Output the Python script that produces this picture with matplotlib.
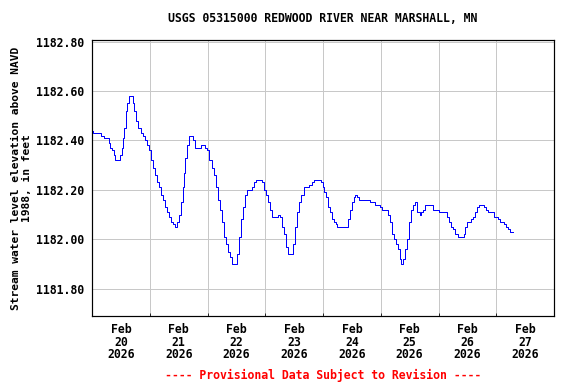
import numpy as np
import matplotlib
matplotlib.use("Agg")
import matplotlib.pyplot as plt
import matplotlib.dates as mdates

# hours since 2026-02-20 00:00 and gage height (ft, NAVD 1988)
hours = [0.29, 0.54, 3.32, 3.62, 4.70, 4.99, 6.11, 6.94, 7.48, 8.31, 9.14, 9.68, 10.93, 11.64, 12.34,
         13.01, 13.42, 14.13, 14.67, 15.50, 16.33, 16.92, 17.46, 18.29, 19.24, 20.24, 21.32, 22.15,
         22.98, 23.81, 24.64, 25.48, 26.31, 27.14, 27.97, 28.80, 29.63, 30.46, 31.29, 32.13, 32.96,
         33.79, 34.62, 35.45, 36.28, 36.86, 37.70, 38.24, 38.78, 39.36, 40.19, 41.02, 41.85, 42.93,
         44.88, 45.42, 46.01, 46.84, 47.67, 48.50, 48.75, 49.75, 50.58, 51.41, 52.24, 53.07, 53.91,
         54.74, 55.57, 56.40, 57.23, 58.06, 59.43, 60.26, 61.09, 61.93, 62.76, 63.59, 64.42, 65.79,
         66.62, 67.45, 68.28, 69.41, 70.53, 71.36, 72.19, 73.02, 73.85, 74.68, 76.89, 77.18, 78.01,
         78.84, 79.67, 80.50, 81.33, 82.70, 83.54, 84.37, 85.20, 86.03, 86.86, 87.98, 89.35, 90.18,
         91.31, 92.14, 94.34, 95.17, 96.00, 96.54, 97.25, 98.08, 98.91, 99.74, 100.57, 101.41, 101.95,
         105.56, 106.39, 107.22, 108.06, 108.89, 109.43, 110.26, 111.09, 114.99, 115.54, 117.20,
         117.74, 119.15, 119.69, 120.52, 122.19, 123.02, 123.85, 124.68, 125.51, 126.35, 127.18,
         128.01, 128.55, 129.38, 130.21, 131.04, 131.87, 132.70, 133.53, 134.36, 135.20, 136.03,
         136.32, 136.86, 137.69, 138.52, 141.02, 141.85, 143.80, 144.34, 145.88, 146.71, 147.54,
         148.37, 149.20, 150.03, 150.86, 151.99, 153.65, 154.48, 155.02, 155.85, 156.68, 157.51,
         158.35, 159.18, 160.01, 160.84, 161.96, 162.79, 163.62, 164.70, 165.82, 166.94, 167.77,
         168.61, 169.69, 171.10, 171.93, 172.76, 173.59, 174.14, 174.97]
values = [1182.44, 1182.43, 1182.43, 1182.42, 1182.42, 1182.41, 1182.41, 1182.39, 1182.37, 1182.36,
          1182.34, 1182.32, 1182.32, 1182.34, 1182.37, 1182.41, 1182.45, 1182.52, 1182.55, 1182.58,
          1182.58, 1182.55, 1182.52, 1182.48, 1182.45, 1182.43, 1182.42, 1182.40, 1182.38, 1182.36,
          1182.32, 1182.29, 1182.26, 1182.23, 1182.21, 1182.18, 1182.16, 1182.13, 1182.11, 1182.09,
          1182.07, 1182.06, 1182.05, 1182.07, 1182.10, 1182.15, 1182.21, 1182.27, 1182.33, 1182.38,
          1182.42, 1182.42, 1182.40, 1182.37, 1182.37, 1182.38, 1182.38, 1182.37, 1182.36, 1182.34,
          1182.32, 1182.29, 1182.26, 1182.21, 1182.16, 1182.12, 1182.07, 1182.01, 1181.98, 1181.95,
          1181.93, 1181.90, 1181.90, 1181.94, 1182.01, 1182.08, 1182.13, 1182.18, 1182.20, 1182.20,
          1182.21, 1182.23, 1182.24, 1182.24, 1182.23, 1182.20, 1182.18, 1182.15, 1182.12, 1182.09,
          1182.09, 1182.10, 1182.09, 1182.05, 1182.02, 1181.97, 1181.94, 1181.94, 1181.98, 1182.05,
          1182.11, 1182.15, 1182.18, 1182.21, 1182.21, 1182.22, 1182.23, 1182.24, 1182.24, 1182.23,
          1182.21, 1182.19, 1182.17, 1182.13, 1182.11, 1182.08, 1182.07, 1182.06, 1182.05, 1182.05,
          1182.08, 1182.12, 1182.15, 1182.17, 1182.18, 1182.17, 1182.16, 1182.16, 1182.15, 1182.15,
          1182.14, 1182.14, 1182.13, 1182.12, 1182.12, 1182.10, 1182.07, 1182.02, 1182.00, 1181.98,
          1181.96, 1181.92, 1181.90, 1181.92, 1181.96, 1182.00, 1182.07, 1182.12, 1182.14, 1182.15,
          1182.11, 1182.11, 1182.10, 1182.11, 1182.12, 1182.14, 1182.14, 1182.12, 1182.12, 1182.11,
          1182.11, 1182.11, 1182.09, 1182.07, 1182.05, 1182.04, 1182.02, 1182.01, 1182.01, 1182.02,
          1182.05, 1182.07, 1182.07, 1182.08, 1182.09, 1182.11, 1182.13, 1182.14, 1182.14, 1182.13,
          1182.12, 1182.11, 1182.11, 1182.09, 1182.09, 1182.08, 1182.07, 1182.06, 1182.05, 1182.04,
          1182.03, 1182.03, 1182.03]

start = np.datetime64("2026-02-20T00:00")
day_labels = ["Feb\n20\n2026", "Feb\n21\n2026", "Feb\n22\n2026", "Feb\n23\n2026",
              "Feb\n24\n2026", "Feb\n25\n2026", "Feb\n26\n2026", "Feb\n27\n2026"]
yticks = [1181.80, 1182.00, 1182.20, 1182.40, 1182.60, 1182.80]

title = "USGS 05315000 REDWOOD RIVER NEAR MARSHALL, MN"
ylabel = "Stream water level elevation above NAVD\n1988, in feet"
footer = "---- Provisional Data Subject to Revision ----"

font = "DejaVu Sans Mono"
fs = 11.5

times = start + (np.array(hours) * 60).astype("timedelta64[m]")

fig = plt.figure(figsize=(8, 384 / 72), dpi=72)
ax = fig.add_axes([92 / 576, 1 - 316 / 384, (554 - 92) / 576, (316 - 40) / 384])

ax.plot(times, values, color="#0000ff", lw=1.0, drawstyle="steps-post", zorder=3)

n_days = len(day_labels)
midnights = [start + np.timedelta64(24 * i, "h") for i in range(n_days + 1)]
noons = [start + np.timedelta64(24 * i + 12, "h") for i in range(n_days)]
ax.set_xlim(mdates.date2num(midnights[0]), mdates.date2num(midnights[-1]))
ax.set_xticks([mdates.date2num(m) for m in midnights])
ax.set_xticklabels([])
ax.set_xticks([mdates.date2num(n) for n in noons], minor=True)
ax.set_xticklabels(day_labels, minor=True, fontfamily=font, fontweight="bold", fontsize=fs,
                   linespacing=0.95)
ax.tick_params(axis="x", which="minor", length=0, pad=7)
ax.tick_params(axis="x", which="major", length=3, direction="in")

ax.set_ylim(1181.689, 1182.807)
ax.set_yticks(yticks)
ax.set_yticklabels([f"{v:.2f}" for v in yticks], fontfamily=font, fontweight="bold", fontsize=fs)
ax.tick_params(axis="y", length=0, pad=8)

ax.grid(True, which="major", color="#c8c8c8", lw=1.0, zorder=1)
ax.set_axisbelow(True)
for s in ax.spines.values():
    s.set_linewidth(1.2)
    s.set_color("black")

ax.set_ylabel(ylabel, fontfamily=font, fontweight="bold", fontsize=11.3, linespacing=1.1,
              labelpad=4)

fig.text(323 / 576, 1 - 19 / 384, title, ha="center", va="center", fontfamily=font,
         fontweight="bold", fontsize=fs)
fig.text(323 / 576, 1 - 375 / 384, footer, ha="center", va="center", fontfamily=font,
         fontweight="bold", fontsize=fs, color="#ff0000")

fig.savefig("out.png", dpi=72)
